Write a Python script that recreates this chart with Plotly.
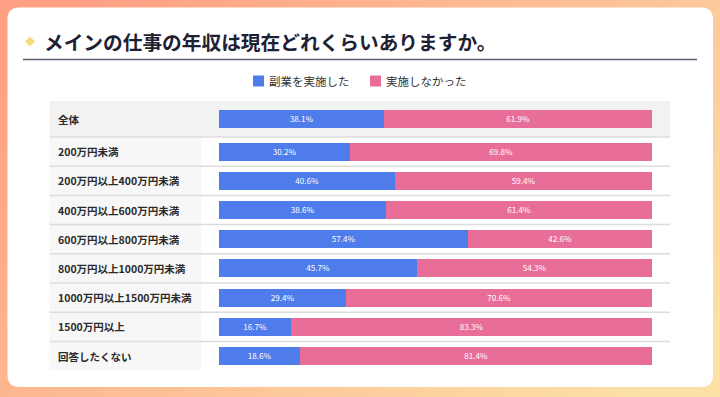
import base64
import plotly.graph_objects as go

# ---- data ----
categories = ["全体", "200万円未満", "200万円以上400万円未満", "400万円以上600万円未満",
              "600万円以上800万円未満", "800万円以上1000万円未満", "1000万円以上1500万円未満",
              "1500万円以上", "回答したくない"]
did_side_job = [38.1, 30.2, 40.6, 38.6, 57.4, 45.7, 29.4, 16.7, 18.6]
did_not = [61.9, 69.8, 59.4, 61.4, 42.6, 54.3, 70.6, 83.3, 81.4]
series_names = ["副業を実施した", "実施しなかった"]
title_text = "メインの仕事の年収は現在どれくらいありますか。"

# ---- layout constants (pixels) ----
W, H = 720, 397
BLUE = "#4E7CEA"
PINK = "#E86D98"
FONT = "Noto Sans CJK JP"
TABLE_L, TABLE_R, LABEL_R = 49.5, 670, 201
TABLE_T, FIRST_H, ROW_H = 101, 36, 29.2
BAR_L, BAR_R = 219, 652

def px(x):
    return x / W

row_tops = [TABLE_T] + [TABLE_T + FIRST_H + ROW_H * (i - 1) for i in range(1, len(categories))]
row_h = [FIRST_H] + [ROW_H] * (len(categories) - 1)
centers = [t + h / 2 for t, h in zip(row_tops, row_h)]

fig = go.Figure()
fig.add_trace(go.Bar(
    y=centers, x=did_side_job, orientation="h", name=series_names[0],
    marker=dict(color=BLUE, line=dict(width=0)), width=18,
    text=[f"{v:.1f}%" for v in did_side_job], textposition="inside",
    insidetextanchor="middle", textangle=0,
    textfont=dict(color="white", size=9.5, family=FONT), showlegend=False,
))
fig.add_trace(go.Bar(
    y=centers, x=did_not, orientation="h", name=series_names[1],
    marker=dict(color=PINK, line=dict(width=0)), width=18,
    text=[f"{v:.1f}%" for v in did_not], textposition="inside",
    insidetextanchor="middle", textangle=0,
    textfont=dict(color="white", size=9.5, family=FONT), showlegend=False,
))

shapes = []
# white rounded card
x0, y0, x1, y1, r = 7.5, 7.5, 713, 387, 12
card = (f"M {px(x0+r)},{y0} L {px(x1-r)},{y0} Q {px(x1)},{y0} {px(x1)},{y0+r} "
        f"L {px(x1)},{y1-r} Q {px(x1)},{y1} {px(x1-r)},{y1} L {px(x0+r)},{y1} "
        f"Q {px(x0)},{y1} {px(x0)},{y1-r} L {px(x0)},{y0+r} Q {px(x0)},{y0} {px(x0+r)},{y0} Z")
shapes.append(dict(type="path", path=card, xref="paper", yref="y",
                   fillcolor="white", line=dict(width=0), layer="below"))
# diamond
dc, dy, ds = 30, 41.5, 5
shapes.append(dict(type="path", xref="paper", yref="y", layer="below",
                   path=f"M {px(dc)},{dy-ds} L {px(dc+ds)},{dy} L {px(dc)},{dy+ds} L {px(dc-ds)},{dy} Z",
                   fillcolor="#F6DC78", line=dict(width=0)))
# title underline
shapes.append(dict(type="line", xref="paper", yref="y", x0=px(23), x1=px(697), y0=59.5, y1=59.5,
                   line=dict(color="#5A5E70", width=1.3), layer="below"))
# table backgrounds
for i, (t, h) in enumerate(zip(row_tops, row_h)):
    right = TABLE_R if i == 0 else LABEL_R
    color = "#F2F2F2" if i == 0 else "#F7F7F7"
    shapes.append(dict(type="rect", xref="paper", yref="y", x0=px(TABLE_L), x1=px(right),
                       y0=t, y1=t + h, fillcolor=color, line=dict(width=0), layer="below"))
    if i > 0:
        shapes.append(dict(type="line", xref="paper", yref="y", x0=px(TABLE_L), x1=px(TABLE_R),
                           y0=t, y1=t, line=dict(color="#DCDCDC", width=1.5), layer="below"))
# legend squares
leg_x = [253, 370]
for lx, c in zip(leg_x, [BLUE, PINK]):
    shapes.append(dict(type="rect", xref="paper", yref="y", x0=px(lx), x1=px(lx + 11),
                       y0=75.5, y1=86.5, fillcolor=c, line=dict(width=0), layer="below"))

annotations = []
annotations.append(dict(text=f"<b>{title_text}</b>", xref="paper", yref="y", x=px(42), y=41,
                        xanchor="left", yanchor="middle", showarrow=False,
                        font=dict(size=19.7, color="#1E2133", family=FONT)))
for lx, name in zip(leg_x, series_names):
    annotations.append(dict(text=name, xref="paper", yref="y", x=px(lx + 14), y=81,
                            xanchor="left", yanchor="middle", showarrow=False,
                            font=dict(size=11.5, color="#333333", family=FONT)))
for c, cat in zip(centers, categories):
    annotations.append(dict(text=cat, xref="paper", yref="y", x=px(56), y=c,
                            xanchor="left", yanchor="middle", showarrow=False,
                            font=dict(size=10.5, color="#2A2A2A", family=FONT, weight=600)))

bg_svg = (
    '<svg xmlns="http://www.w3.org/2000/svg" width="720" height="397">'
    '<defs><linearGradient id="g" x1="0" y1="0.2" x2="1" y2="0.8">'
    '<stop offset="0" stop-color="#FFA085"/>'
    '<stop offset="0.45" stop-color="#FDBC94"/>'
    '<stop offset="1" stop-color="#FCE0A6"/>'
    '</linearGradient></defs>'
    '<rect width="720" height="397" fill="url(#g)"/></svg>'
)
bg_uri = "data:image/svg+xml;base64," + base64.b64encode(bg_svg.encode()).decode()

fig.update_layout(
    width=W, height=H, barmode="stack", bargap=0,
    margin=dict(l=0, r=0, t=0, b=0),
    paper_bgcolor="#FDC59A", plot_bgcolor="rgba(0,0,0,0)",
    xaxis=dict(domain=[px(BAR_L), px(BAR_R)], range=[0, 100], visible=False, fixedrange=True),
    yaxis=dict(domain=[0, 1], range=[H, 0], visible=False, fixedrange=True),
    shapes=shapes, annotations=annotations,
    images=[dict(source=bg_uri, xref="paper", yref="paper", x=0, y=1, sizex=1, sizey=1,
                 sizing="stretch", layer="below", xanchor="left", yanchor="top")],
    font=dict(family=FONT), showlegend=False,
)

fig.write_html("out.html", config={"displayModeBar": False},
               post_script="document.body.style.margin='0';")
